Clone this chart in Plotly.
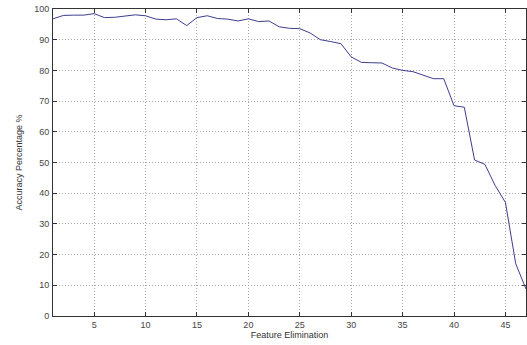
import plotly.graph_objects as go

features = list(range(1, 48))
accuracy = [96.8, 97.9, 98.0, 98.0, 98.5, 97.2, 97.3, 97.6, 98.1, 97.8,
            96.7, 96.5, 96.8, 94.6, 97.2, 97.8, 96.9, 96.7, 96.1, 96.8,
            95.9, 96.1, 94.2, 93.7, 93.6, 92.2, 90.0, 89.4, 88.7, 84.4,
            82.6, 82.5, 82.4, 80.8, 80.0, 79.6, 78.4, 77.3, 77.3, 68.5,
            68.0, 50.8, 49.4, 42.5, 37.0, 17.0, 8.8]
x_title = "Feature Elimination"
y_title = "Accuracy Percentage %"

fig = go.Figure()
fig.add_trace(go.Scatter(x=features, y=accuracy, mode="lines",
                         line=dict(color="#3d3d8f", width=1)))

font_family = "Liberation Sans, Arial, sans-serif"
axis_common = dict(
    showline=True, linecolor="#333333", linewidth=1, mirror="ticks",
    ticks="inside", ticklen=4, tickcolor="#333333",
    showgrid=True, gridcolor="#a8a8a8", griddash="1px,2px", gridwidth=1,
    zeroline=False,
    tickfont=dict(family=font_family, size=9, color="#444444"),
)

fig.update_xaxes(range=[1, 47], tick0=0, dtick=5,
                 title=dict(text=x_title, standoff=2,
                            font=dict(family=font_family, size=9, color="#333333")),
                 **axis_common)
fig.update_yaxes(range=[0, 100], tick0=0, dtick=10, ticklabelstandoff=1,
                 title=dict(text=y_title, standoff=10,
                            font=dict(family=font_family, size=9, color="#333333")),
                 **axis_common)

fig.update_layout(
    width=527, height=345,
    margin=dict(l=53, r=1, t=9, b=29),
    paper_bgcolor="white", plot_bgcolor="white",
    showlegend=False,
)

fig.write_html("out.html", config={"displayModeBar": False},
               post_script="document.body.style.margin='0';document.body.style.overflow='hidden';")
